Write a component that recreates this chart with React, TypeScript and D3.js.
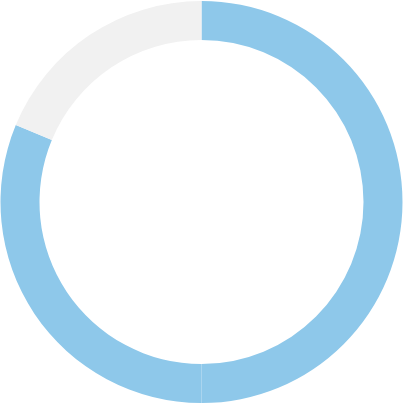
import React from 'react';
import * as d3 from 'd3';

// Slice values, clockwise from 12 o'clock
const sliceValues = [8, 5, 3];
const sliceColors = ['#8ec8ea', '#8ec8ea', '#f1f1f1'];

const WIDTH = 403;
const HEIGHT = 404;

const App: React.FC = () => {
  const cx = WIDTH / 2;
  const cy = 202;
  const outerRadius = 201;
  const innerRadius = 162;

  const pie = d3.pie<number>().sort(null).value(d => d);
  const arc = d3.arc<d3.PieArcDatum<number>>()
    .innerRadius(innerRadius)
    .outerRadius(outerRadius);

  const arcs = pie(sliceValues);

  return (
    <svg
      width={WIDTH}
      height={HEIGHT}
      style={{ position: 'absolute', left: 0, top: 0, background: '#ffffff' }}
    >
      <g transform={`translate(${cx},${cy})`}>
        {arcs.map((a, i) => (
          <path key={i} d={arc(a) || ''} fill={sliceColors[i]} />
        ))}
      </g>
    </svg>
  );
};

export default App;
